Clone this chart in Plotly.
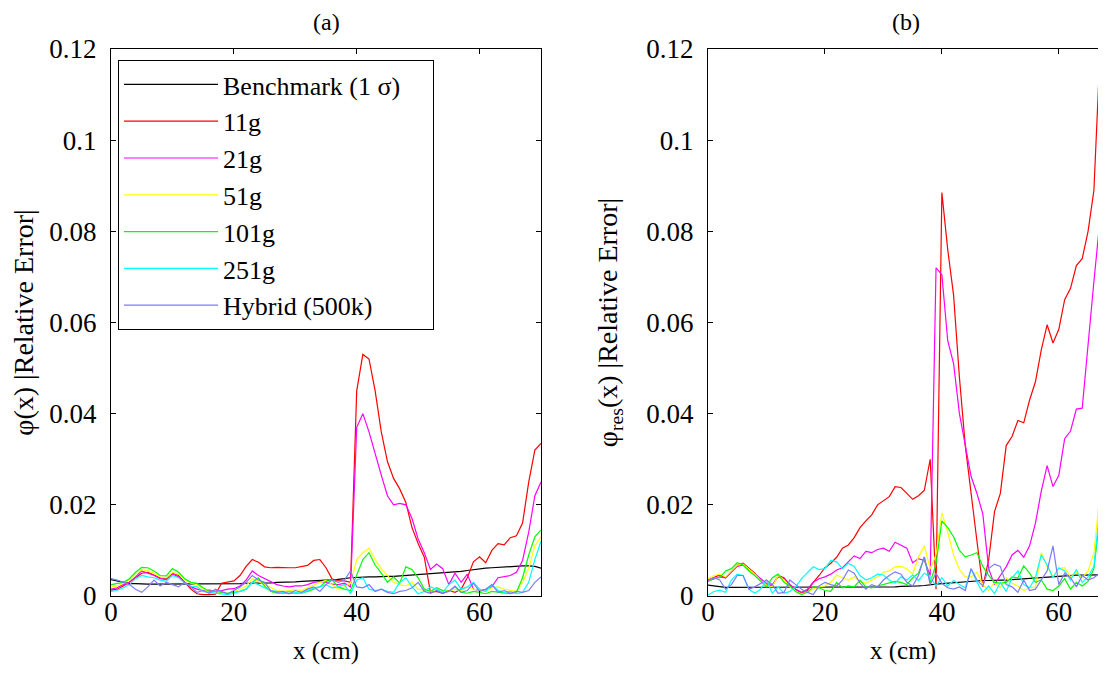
import plotly.graph_objects as go

x_cm = list(range(0, 71))

# panel (a): phi(x) relative error
bench_a = [0.0036, 0.0033, 0.0029, 0.0027, 0.0027, 0.0026, 0.0026, 0.0026, 0.0026, 0.0026,
           0.0026, 0.0026, 0.0026, 0.0026, 0.0026, 0.0026, 0.0026, 0.0026, 0.0026, 0.0027,
           0.0027, 0.0027, 0.0028, 0.0028, 0.0028, 0.0029, 0.0029, 0.0030, 0.0030, 0.0031,
           0.0031, 0.0032, 0.0033, 0.0033, 0.0034, 0.0035, 0.0035, 0.0036, 0.0038, 0.0040,
           0.0041, 0.0042, 0.0042, 0.0042, 0.0043, 0.0043, 0.0043, 0.0044, 0.0044, 0.0045,
           0.0046, 0.0047, 0.0048, 0.0049, 0.0050, 0.0051, 0.0052, 0.0054, 0.0056, 0.0058,
           0.0060, 0.0061, 0.0062, 0.0063, 0.0064, 0.0065, 0.0066, 0.0066, 0.0066, 0.0065,
           0.0061]
g11_a = [0.0013, 0.0015, 0.0022, 0.0030, 0.0040, 0.0050, 0.0052, 0.0046, 0.0040, 0.0038,
         0.0050, 0.0045, 0.0030, 0.0015, 0.0005, 0.0003, 0.0003, 0.0004, 0.0028, 0.0030,
         0.0033, 0.0045, 0.0065, 0.0080, 0.0074, 0.0064, 0.0062, 0.0063, 0.0062, 0.0062,
         0.0062, 0.0064, 0.0067, 0.0078, 0.0080, 0.0062, 0.0037, 0.0034, 0.0033, 0.0030,
         0.0450, 0.0530, 0.0520, 0.0450, 0.0360, 0.0295, 0.0258, 0.0235, 0.0205, 0.0150,
         0.0115, 0.0085, 0.0008, 0.0010, 0.0006, 0.0012, 0.0008, 0.0015, 0.0040, 0.0075,
         0.0086, 0.0073, 0.0100, 0.0115, 0.0112, 0.0128, 0.0132, 0.0160, 0.0250, 0.0320,
         0.0335]
g21_a = [0.0015, 0.0018, 0.0025, 0.0030, 0.0042, 0.0055, 0.0050, 0.0045, 0.0038, 0.0036,
         0.0048, 0.0042, 0.0030, 0.0020, 0.0015, 0.0012, 0.0013, 0.0011, 0.0012, 0.0015,
         0.0016, 0.0022, 0.0035, 0.0055, 0.0045, 0.0038, 0.0032, 0.0025, 0.0022, 0.0020,
         0.0022, 0.0022, 0.0025, 0.0030, 0.0032, 0.0030, 0.0026, 0.0025, 0.0028, 0.0020,
         0.0370, 0.0400, 0.0360, 0.0310, 0.0265, 0.0220, 0.0200, 0.0203, 0.0200, 0.0170,
         0.0125, 0.0095, 0.0058, 0.0070, 0.0060, 0.0025, 0.0050, 0.0030, 0.0048, 0.0015,
         0.0012, 0.0014, 0.0020, 0.0040, 0.0042, 0.0045, 0.0052, 0.0078, 0.0140, 0.0220,
         0.0250]
g51_a = [0.0020, 0.0022, 0.0028, 0.0035, 0.0048, 0.0058, 0.0055, 0.0050, 0.0042, 0.0040,
         0.0052, 0.0048, 0.0035, 0.0028, 0.0025, 0.0015, 0.0010, 0.0010, 0.0008, 0.0006,
         0.0010, 0.0015, 0.0022, 0.0038, 0.0032, 0.0025, 0.0018, 0.0012, 0.0010, 0.0012,
         0.0014, 0.0012, 0.0018, 0.0025, 0.0030, 0.0034, 0.0025, 0.0015, 0.0020, 0.0028,
         0.0080, 0.0095, 0.0105, 0.0080, 0.0060, 0.0045, 0.0030, 0.0025, 0.0022, 0.0030,
         0.0015, 0.0012, 0.0010, 0.0015, 0.0012, 0.0010, 0.0015, 0.0012, 0.0020, 0.0015,
         0.0012, 0.0010, 0.0018, 0.0020, 0.0015, 0.0012, 0.0010, 0.0030, 0.0060, 0.0110,
         0.0130]
g101_a = [0.0025, 0.0028, 0.0030, 0.0038, 0.0052, 0.0063, 0.0062, 0.0055, 0.0045, 0.0044,
          0.0060, 0.0052, 0.0038, 0.0030, 0.0028, 0.0018, 0.0010, 0.0010, 0.0008, 0.0006,
          0.0008, 0.0010, 0.0015, 0.0030, 0.0040, 0.0022, 0.0010, 0.0006, 0.0006, 0.0006,
          0.0005, 0.0006, 0.0010, 0.0015, 0.0020, 0.0032, 0.0035, 0.0020, 0.0015, 0.0012,
          0.0045, 0.0080, 0.0095, 0.0068, 0.0050, 0.0030, 0.0042, 0.0028, 0.0064, 0.0058,
          0.0040, 0.0015, 0.0010, 0.0018, 0.0012, 0.0010, 0.0020, 0.0008, 0.0006, 0.0010,
          0.0008, 0.0005, 0.0010, 0.0008, 0.0006, 0.0005, 0.0008, 0.0040, 0.0090, 0.0130,
          0.0145]
g251_a = [0.0010, 0.0012, 0.0018, 0.0025, 0.0038, 0.0045, 0.0042, 0.0040, 0.0035, 0.0032,
          0.0045, 0.0040, 0.0028, 0.0022, 0.0020, 0.0010, 0.0008, 0.0006, 0.0004, 0.0003,
          0.0006, 0.0010, 0.0015, 0.0030, 0.0025, 0.0018, 0.0012, 0.0010, 0.0008, 0.0010,
          0.0008, 0.0006, 0.0012, 0.0018, 0.0020, 0.0025, 0.0018, 0.0020, 0.0025, 0.0005,
          0.0035, 0.0040, 0.0015, 0.0012, 0.0015, 0.0010, 0.0008, 0.0030, 0.0040, 0.0020,
          0.0005, 0.0010, 0.0020, 0.0015, 0.0008, 0.0025, 0.0035, 0.0015, 0.0020, 0.0030,
          0.0015, 0.0010, 0.0025, 0.0012, 0.0008, 0.0010, 0.0005, 0.0008, 0.0030, 0.0080,
          0.0120]
hybrid_a = [0.0038, 0.0035, 0.0030, 0.0025, 0.0015, 0.0008, 0.0020, 0.0035, 0.0022, 0.0030,
            0.0025, 0.0020, 0.0030, 0.0018, 0.0008, 0.0012, 0.0006, 0.0015, 0.0010, 0.0005,
            0.0012, 0.0020, 0.0030, 0.0045, 0.0035, 0.0030, 0.0012, 0.0008, 0.0010, 0.0005,
            0.0012, 0.0008, 0.0015, 0.0020, 0.0010, 0.0025, 0.0035, 0.0030, 0.0035, 0.0055,
            0.0020, 0.0018, 0.0025, 0.0010, 0.0015, 0.0008, 0.0005, 0.0010, 0.0012, 0.0018,
            0.0030, 0.0010, 0.0006, 0.0012, 0.0006, 0.0010, 0.0022, 0.0008, 0.0012, 0.0028,
            0.0010, 0.0015, 0.0025, 0.0008, 0.0012, 0.0006, 0.0010, 0.0008, 0.0012, 0.0030,
            0.0042]

# panel (b): phi_res(x) relative error
bench_b = [0.0024, 0.0022, 0.0020, 0.0019, 0.0019, 0.0019, 0.0019, 0.0019, 0.0019, 0.0019,
           0.0019, 0.0019, 0.0019, 0.0019, 0.0019, 0.0019, 0.0019, 0.0019, 0.0019, 0.0019,
           0.0019, 0.0019, 0.0019, 0.0019, 0.0019, 0.0019, 0.0019, 0.0019, 0.0019, 0.0020,
           0.0020, 0.0020, 0.0020, 0.0021, 0.0021, 0.0021, 0.0022, 0.0023, 0.0025, 0.0026,
           0.0027, 0.0028, 0.0029, 0.0030, 0.0032, 0.0033, 0.0033, 0.0034, 0.0034, 0.0035,
           0.0035, 0.0035, 0.0036, 0.0037, 0.0038, 0.0039, 0.0040, 0.0041, 0.0042, 0.0043,
           0.0044, 0.0045, 0.0046, 0.0046, 0.0046, 0.0046, 0.0046, 0.0047, 0.0047, 0.0047,
           0.0047]
g11_b = [0.0035, 0.0040, 0.0046, 0.0040, 0.0055, 0.0068, 0.0072, 0.0062, 0.0050, 0.0035,
         0.0025, 0.0022, 0.0045, 0.0040, 0.0025, 0.0015, 0.0006, 0.0012, 0.0030, 0.0045,
         0.0062, 0.0072, 0.0085, 0.0105, 0.0112, 0.0128, 0.0150, 0.0165, 0.0178, 0.0200,
         0.0210, 0.0218, 0.0240, 0.0238, 0.0225, 0.0212, 0.0220, 0.0232, 0.0300, 0.0015,
         0.0885, 0.0760, 0.0660, 0.0480, 0.0330, 0.0220, 0.0120, 0.0020, 0.0079, 0.0185,
         0.0225, 0.0330, 0.0350, 0.0385, 0.0380, 0.0430, 0.0470, 0.0540, 0.0595, 0.0555,
         0.0585, 0.0650, 0.0675, 0.0725, 0.0740, 0.0800, 0.0890, 0.1180, 0.1200, 0.1190,
         0.1150]
g21_b = [0.0033, 0.0038, 0.0042, 0.0040, 0.0052, 0.0065, 0.0068, 0.0058, 0.0048, 0.0036,
         0.0028, 0.0025, 0.0042, 0.0038, 0.0025, 0.0015, 0.0008, 0.0015, 0.0030, 0.0038,
         0.0042, 0.0048, 0.0057, 0.0062, 0.0075, 0.0088, 0.0082, 0.0098, 0.0095, 0.0102,
         0.0105, 0.0098, 0.0118, 0.0112, 0.0105, 0.0073, 0.0082, 0.0078, 0.0045, 0.0720,
         0.0705, 0.0560, 0.0510, 0.0400, 0.0330, 0.0262, 0.0225, 0.0180, 0.0060, 0.0025,
         0.0045, 0.0064, 0.0090, 0.0100, 0.0085, 0.0110, 0.0160, 0.0230, 0.0286, 0.0240,
         0.0265, 0.0345, 0.0362, 0.0410, 0.0412, 0.0560, 0.0690, 0.0820, 0.0850, 0.0870,
         0.0880]
g51_b = [0.0038, 0.0045, 0.0048, 0.0042, 0.0055, 0.0068, 0.0070, 0.0060, 0.0048, 0.0034,
         0.0024, 0.0020, 0.0045, 0.0035, 0.0020, 0.0010, 0.0005, 0.0008, 0.0015, 0.0020,
         0.0022, 0.0030, 0.0046, 0.0040, 0.0035, 0.0042, 0.0031, 0.0028, 0.0035, 0.0042,
         0.0052, 0.0055, 0.0064, 0.0065, 0.0060, 0.0048, 0.0086, 0.0110, 0.0060, 0.0090,
         0.0182, 0.0140, 0.0090, 0.0058, 0.0042, 0.0042, 0.0052, 0.0025, 0.0012, 0.0030,
         0.0018, 0.0040, 0.0028, 0.0022, 0.0012, 0.0018, 0.0020, 0.0095, 0.0065, 0.0042,
         0.0060, 0.0062, 0.0042, 0.0052, 0.0040, 0.0055, 0.0095, 0.0220, 0.0230, 0.0210,
         0.0200]
g101_b = [0.0031, 0.0040, 0.0040, 0.0055, 0.0060, 0.0073, 0.0068, 0.0055, 0.0045, 0.0032,
          0.0020, 0.0040, 0.0048, 0.0030, 0.0022, 0.0010, 0.0003, 0.0008, 0.0020, 0.0018,
          0.0012, 0.0010, 0.0030, 0.0018, 0.0022, 0.0020, 0.0035, 0.0020, 0.0018, 0.0022,
          0.0025, 0.0028, 0.0032, 0.0030, 0.0025, 0.0040, 0.0050, 0.0085, 0.0030, 0.0070,
          0.0165, 0.0150, 0.0130, 0.0100, 0.0086, 0.0090, 0.0095, 0.0065, 0.0045, 0.0030,
          0.0028, 0.0030, 0.0042, 0.0040, 0.0066, 0.0050, 0.0030, 0.0035, 0.0015, 0.0012,
          0.0022, 0.0038, 0.0015, 0.0030, 0.0022, 0.0032, 0.0060, 0.0170, 0.0180, 0.0170,
          0.0165]
g251_b = [0.0002, 0.0010, 0.0013, 0.0008, 0.0035, 0.0048, 0.0045, 0.0015, 0.0006, 0.0015,
          0.0035, 0.0006, 0.0020, 0.0006, 0.0010, 0.0020, 0.0038, 0.0052, 0.0064, 0.0058,
          0.0060, 0.0078, 0.0075, 0.0060, 0.0072, 0.0065, 0.0045, 0.0035, 0.0040, 0.0048,
          0.0046, 0.0035, 0.0028, 0.0042, 0.0035, 0.0046, 0.0034, 0.0050, 0.0042, 0.0022,
          0.0040, 0.0022, 0.0034, 0.0025, 0.0018, 0.0060, 0.0030, 0.0008, 0.0022, 0.0005,
          0.0030, 0.0010, 0.0040, 0.0055, 0.0025, 0.0018, 0.0040, 0.0090, 0.0068, 0.0040,
          0.0062, 0.0055, 0.0035, 0.0058, 0.0030, 0.0042, 0.0065, 0.0190, 0.0200, 0.0195,
          0.0190]
hybrid_b = [0.0035, 0.0040, 0.0035, 0.0015, 0.0025, 0.0045, 0.0045, 0.0015, 0.0020, 0.0028,
            0.0035, 0.0025, 0.0006, 0.0008, 0.0035, 0.0025, 0.0015, 0.0008, 0.0003, 0.0022,
            0.0030, 0.0025, 0.0022, 0.0035, 0.0057, 0.0050, 0.0028, 0.0015, 0.0025, 0.0020,
            0.0035, 0.0045, 0.0053, 0.0048, 0.0030, 0.0022, 0.0045, 0.0086, 0.0025, 0.0050,
            0.0028, 0.0018, 0.0015, 0.0020, 0.0012, 0.0060, 0.0035, 0.0022, 0.0060, 0.0070,
            0.0065, 0.0025, 0.0020, 0.0008, 0.0035, 0.0012, 0.0015, 0.0035, 0.0055, 0.0110,
            0.0025, 0.0050, 0.0040, 0.0020, 0.0045, 0.0035, 0.0040, 0.0050, 0.0045, 0.0040,
            0.0045]

names = ["Benchmark (1 σ)", "11g", "21g", "51g", "101g", "251g", "Hybrid (500k)"]
colors = ["#000000", "#ff0000", "#ff00ff", "#ffff00", "#00ff00", "#00ffff", "#7b7bff"]
series_a = [bench_a, g11_a, g21_a, g51_a, g101_a, g251_a, hybrid_a]
series_b = [bench_b, g11_b, g21_b, g51_b, g101_b, g251_b, hybrid_b]

FONT = "Liberation Serif, Times New Roman, serif"
# invisible padding after the first entry, so the legend box is as wide as the original
PAD = "<span style='color:white'>\u00a0\u00a0_</span>"

fig = go.Figure()
for i, (name, col) in enumerate(zip(names, colors)):
    label = name + PAD if i == 0 else name
    fig.add_trace(go.Scatter(x=x_cm, y=series_a[i], mode="lines", name=label,
                             line=dict(color=col, width=1.2), legendgroup=name,
                             xaxis="x", yaxis="y"))
for i, (name, col) in enumerate(zip(names, colors)):
    fig.add_trace(go.Scatter(x=x_cm, y=series_b[i], mode="lines", name=name,
                             line=dict(color=col, width=1.2), legendgroup=name,
                             showlegend=False, xaxis="x2", yaxis="y2"))

# the page body keeps an 8 px margin on every side, so the figure fits inside it
OFF = 8
W, H = 1106 - 2 * OFF, 673 - 2 * OFF


def px_x(p):
    return (p - OFF) / W


def px_y(p):
    return 1 - (p - OFF) / H


ydom = [px_y(596), px_y(49)]
ax_common = dict(showline=True, linecolor="black", linewidth=1, ticks="inside",
                 ticklen=5, tickcolor="black", showgrid=False, zeroline=False,
                 automargin=False,
                 tickfont=dict(family=FONT, size=27, color="black"))

fig.update_layout(
    width=W, height=H,
    paper_bgcolor="white", plot_bgcolor="white",
    margin=dict(l=0, r=0, t=0, b=0, pad=0, autoexpand=False),
    font=dict(family=FONT, color="black"),
    xaxis=dict(domain=[px_x(111), px_x(541)], range=[0, 70], tickvals=[0, 20, 40, 60],
               mirror="ticks", anchor="y", ticklabelstandoff=-8,
               title=dict(text="x (cm)", font=dict(size=25), standoff=31), **ax_common),
    yaxis=dict(domain=ydom, range=[0, 0.12], dtick=0.02, mirror="ticks", anchor="x",
               ticklabelstandoff=8,
               title=dict(text="φ(x) |Relative Error|", font=dict(size=28), standoff=24),
               **ax_common),
    xaxis2=dict(domain=[px_x(708), 1.0], range=[0, 66.7], tickvals=[0, 20, 40, 60],
                mirror="ticks", anchor="y2", ticklabelstandoff=-8,
                title=dict(text="x (cm)", font=dict(size=25), standoff=31), **ax_common),
    yaxis2=dict(domain=ydom, range=[0, 0.12], dtick=0.02, anchor="x2",
                ticklabelstandoff=8,
                title=dict(text="φ<sub>res</sub>(x) |Relative Error|", font=dict(size=28),
                           standoff=20), **ax_common),
    legend=dict(x=px_x(118), y=px_y(60), xanchor="left", yanchor="top",
                bgcolor="white", bordercolor="black", borderwidth=1,
                font=dict(family=FONT, size=26, color="black"),
                traceorder="normal", itemwidth=94),
    annotations=[
        dict(text="(a)", x=px_x(326), y=px_y(22), xref="paper", yref="paper",
             xanchor="center", yanchor="middle", showarrow=False,
             font=dict(family=FONT, size=24, color="black")),
        dict(text="(b)", x=px_x(906), y=px_y(22), xref="paper", yref="paper",
             xanchor="center", yanchor="middle", showarrow=False,
             font=dict(family=FONT, size=24, color="black")),
    ],
)

fig.write_html("out.html")
